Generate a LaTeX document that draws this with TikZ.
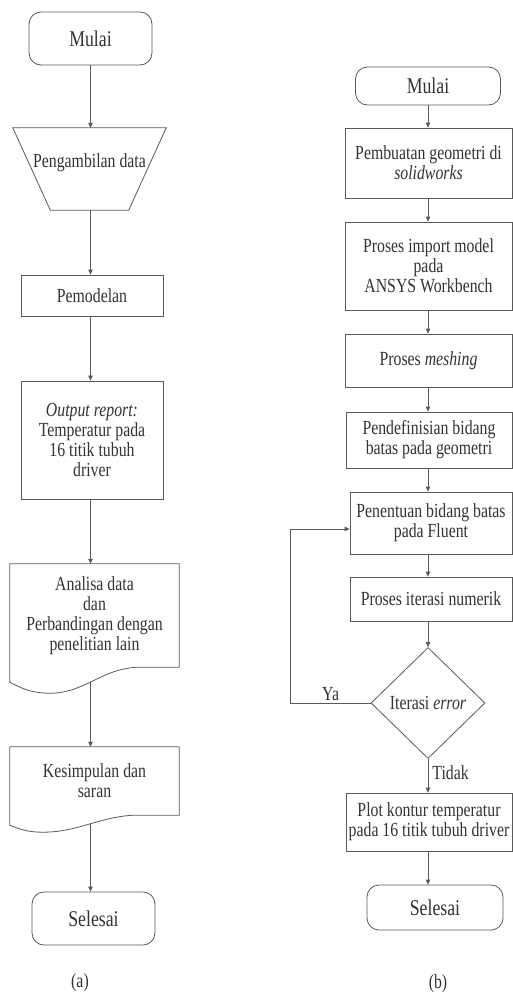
\documentclass[tikz,border=0pt]{standalone}
\usepackage{fontspec}
\setmainfont{Liberation Serif}[FakeStretch=0.79]
\usetikzlibrary{arrows.meta,calc,shapes.geometric}

\begin{document}
\begin{tikzpicture}[x=1pt,y=-1pt,
  line/.style={draw=black!65,line width=0.8pt},
  arrow/.style={line,-{Triangle[length=5pt,width=4.5pt]}},
  plain node/.style={align=center,text=black!80,font=\fontsize{20}{20}\selectfont,inner sep=2pt},
  main node/.style={plain node,rectangle,line},
  term node/.style={main node,rounded corners=12pt,font=\fontsize{22.5}{24}\selectfont}]

  \useasboundingbox (0,0) rectangle (513,997);

  % (a)
  \node[term node,minimum width=123pt,minimum height=53pt] (a1) at (90.5,38.5) {Mulai};
  \node[plain node,minimum width=153pt,minimum height=82pt,text depth=16pt] (a2) at (89.5,169) {Pengambilan data};
  \draw[line] (a2.north west) -- (a2.north east) -- ($(a2.south east)+(-37.5,0)$)
    -- ($(a2.south west)+(37.5,0)$) -- cycle;
  \node[main node,minimum width=142pt,minimum height=41pt] (a3) at (92,295.5) {Pemodelan};
  \node[main node,minimum width=142pt,minimum height=118pt] (a4) at (92,440)
    {\textit{Output report:}\\Temperatur pada\\16 titik tubuh\\driver};
  \node[plain node,minimum width=169pt,minimum height=103pt] (a5) at (94.5,615.5)
    {Analisa data\\dan\\Perbandingan dengan\\penelitian lain};
  \draw[line] (a5.north west) -- (a5.north east) -- (a5.south east) -- ++(-42,0)
    .. controls +(-37,2) and +(35,0) .. ($(a5.south west)+(40,26)$)
    .. controls +(-20,0) and +(10,5) .. ($(a5.south west)+(0,15)$) -- cycle;
  \coordinate (a5w) at ($(a5.south)+(-4,15)$);
  \node[plain node,minimum width=169pt,minimum height=68pt] (a6) at (94.5,781) {Kesimpulan dan\\saran};
  \draw[line] (a6.north west) -- (a6.north east) -- (a6.south east) -- ++(-46,0)
    .. controls +(-35,2) and +(35,0) .. ($(a6.south west)+(33,17)$)
    .. controls +(-15,0) and +(10,4) .. ($(a6.south west)+(0,10)$) -- cycle;
  \coordinate (a6w) at ($(a6.south)+(-4,8.5)$);
  \node[term node,minimum width=123pt,minimum height=53pt] (a7) at (93.5,918.5) {Selesai};
  \node[plain node] (a8) at (80,983) {(a)};

  \foreach \i/\j in {a1.south/a2,a2.south/a3,a3.south/a4,a4.south/a5,a5w/a6,a6w/a7}
    \draw[arrow] (\i -| a1) -- (\j.north -| a1);

  % (b)
  \node[term node,minimum width=145pt,minimum height=38pt] (b1) at (428,86) {Mulai};
  \node[main node,minimum width=167pt,minimum height=70pt] (b2) at (428.5,163) {Pembuatan geometri di\\\textit{solidworks}};
  \node[main node,minimum width=167pt,minimum height=88pt] (b3) at (428.5,266) {Proses import model\\pada\\ANSYS Workbench};
  \node[main node,minimum width=167pt,minimum height=53pt] (b4) at (428.5,360.5) {Proses \textit{meshing}};
  \node[main node,minimum width=166pt,minimum height=56pt] (b5) at (429,440) {Pendefinisian bidang\\batas pada geometri};
  \node[main node,minimum width=162pt,minimum height=62pt] (b6) at (431,523) {Penentuan bidang batas\\pada Fluent};
  \node[main node,minimum width=162pt,minimum height=44pt] (b7) at (431,599) {Proses iterasi numerik};
  \node[main node,diamond,minimum width=114pt,minimum height=111pt,inner sep=0pt] (b8) at (428,703) {Iterasi \textit{error}};
  \node[main node,minimum width=166pt,minimum height=58pt] (b9) at (429,822) {Plot kontur temperatur\\pada 16 titik tubuh driver};
  \node[term node,minimum width=136pt,minimum height=45pt] (b10) at (435,907.5) {Selesai};
  \node[plain node] (b11) at (438,984) {(b)};

  \foreach \i/\j in {b1/b2,b2/b3,b3/b4,b4/b5,b5/b6,b6/b7,b7/b8,b9/b10}
    \draw[arrow] (\i.south -| b1) -- (\j.north -| b1);
  \draw[arrow] (b8.south -| b1) -- (b9.north -| b1) node[plain node,right,pos=0.4,xshift=2pt] {Tidak};
  \draw[arrow] (b8.west) -- ++(-80,0) node[plain node,above,pos=0.5] {Ya} |- ([yshift=-6pt]b6.west);
\end{tikzpicture}
\end{document}
